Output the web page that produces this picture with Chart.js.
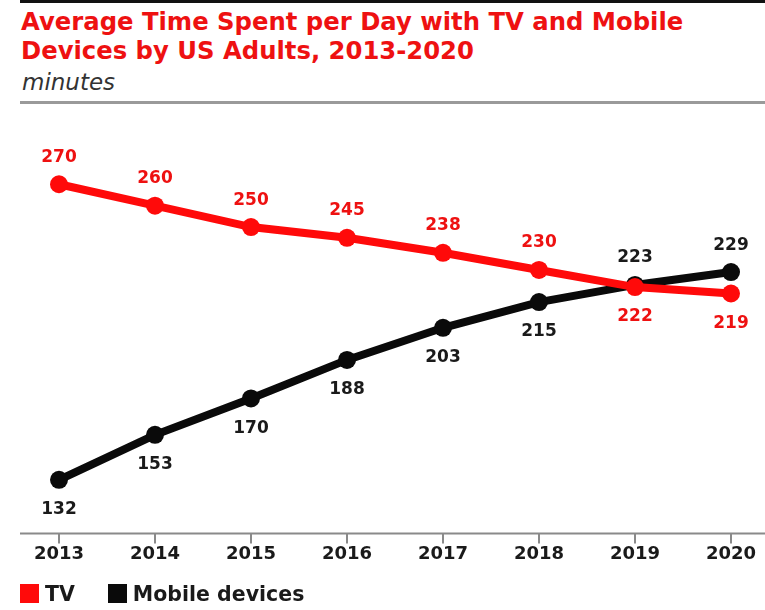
<!DOCTYPE html>
<html>
<head>
<meta charset="utf-8">
<script src="https://cdn.jsdelivr.net/npm/chart.js@4"></script>
<style>
  body { margin: 0; background: #fff; }
  #wrap { position: relative; width: 765px; height: 610px; overflow: hidden; font-family: "DejaVu Sans", sans-serif; }
  #topline { position: absolute; left: 20px; right: 0; top: 0; height: 3px; background: #111; }
  #title { position: absolute; left: 21px; top: 7px; font-weight: bold; font-size: 24.3px; color: #ee1111; line-height: 29px; }
  #sub { position: absolute; left: 22px; top: 69px; font-style: oblique; font-size: 23px; color: #333; }
  #subline { position: absolute; left: 20px; right: 0; top: 101px; height: 3px; background: #9a9a9a; }
  #legend { position: absolute; left: 20px; top: 580px; font-weight: bold; font-size: 20.5px; color: #1a1a1a; }
  #legend span { display: inline-block; vertical-align: middle; }
  #legend .box { width: 19px; height: 19px; margin-right: 6px; }
  #legend .item { margin-right: 33px; }
  canvas { position: absolute; left: 0; top: 0; }
</style>
</head>
<body>
<div id="wrap">
  <div id="topline"></div>
  <div id="title">Average Time Spent per Day with TV and Mobile<br>Devices by US Adults, 2013-2020</div>
  <div id="sub">minutes</div>
  <div id="subline"></div>
  <canvas id="lineChart" width="765" height="610"></canvas>
  <div id="legend"></div>
</div>
<script>
// data
const years = ['2013', '2014', '2015', '2016', '2017', '2018', '2019', '2020'];
const tvMinutes = [270, 260, 250, 245, 238, 230, 222, 219];
const mobileMinutes = [132, 153, 170, 188, 203, 215, 223, 229];

// where each value label sits relative to its point
const tvLabelPos = ['up', 'up', 'up', 'up', 'up', 'up', 'down', 'down'];
const mobileLabelPos = ['down', 'down', 'down', 'down', 'down', 'down', 'up', 'up'];

const RED = '#ff0a0a';
const BLACK = '#0a0a0a';
const FONT = '"DejaVu Sans", sans-serif';

// value labels + long axis line
const valueLabels = {
    id: 'valueLabels',
    afterDatasetsDraw(chart) {
        const c = chart.ctx;
        c.save();
        c.font = 'bold 17px ' + FONT;
        c.textAlign = 'center';
        c.textBaseline = 'middle';
        chart.data.datasets.forEach((ds, i) => {
            const meta = chart.getDatasetMeta(i);
            meta.data.forEach((pt, j) => {
                const dy = ds.labelPos[j] === 'up' ? -27 : 30;
                c.fillStyle = ds.labelColor;
                c.fillText(ds.data[j], pt.x, pt.y + dy);
            });
        });
        c.restore();
    },
    beforeDatasetsDraw(chart) {
        const c = chart.ctx;
        const y = chart.chartArea.bottom;
        c.save();
        c.strokeStyle = '#8a8a8a';
        c.lineWidth = 2;
        c.beginPath();
        c.moveTo(20, y);
        c.lineTo(chart.width, y);
        c.stroke();
        c.restore();
    }
};

const ctx = document.getElementById('lineChart').getContext('2d');
const lineChart = new Chart(ctx, {
    type: 'line',
    data: {
        labels: years,
        datasets: [
            {
                label: 'TV',
                data: tvMinutes,
                borderColor: RED,
                backgroundColor: RED,
                labelColor: '#ee1111',
                labelPos: tvLabelPos,
                borderWidth: 8,
                pointRadius: 9,
                pointBorderWidth: 0,
                tension: 0
            },
            {
                label: 'Mobile devices',
                data: mobileMinutes,
                borderColor: BLACK,
                backgroundColor: BLACK,
                labelColor: '#1a1a1a',
                labelPos: mobileLabelPos,
                borderWidth: 8,
                pointRadius: 9,
                pointBorderWidth: 0,
                tension: 0
            }
        ]
    },
    options: {
        responsive: false,
        animation: false,
        layout: { padding: { left: 0, right: 34, top: 120, bottom: 45 } },
        plugins: {
            tooltip: { enabled: false },
            legend: { display: false }
        },
        scales: {
            x: {
                border: { display: false },
                grid: { drawOnChartArea: false, drawTicks: true, tickLength: 10, color: '#8a8a8a', lineWidth: 2 },
                ticks: {
                    color: '#1a1a1a',
                    padding: 0,
                    font: { family: FONT, size: 18, weight: 'bold' }
                }
            },
            y: {
                min: 107,
                max: 300,
                border: { display: false },
                grid: { display: false },
                ticks: { display: false },
                afterFit(scale) { scale.width = 59; }
            }
        }
    },
    plugins: [valueLabels]
});

// legend built from the datasets
const legendEl = document.getElementById('legend');
lineChart.data.datasets.forEach(ds => {
    const item = document.createElement('span');
    item.className = 'item';
    item.innerHTML = '<span class="box" style="background:' + ds.backgroundColor + '"></span><span>' + ds.label + '</span>';
    legendEl.appendChild(item);
});
</script>
</body>
</html>
